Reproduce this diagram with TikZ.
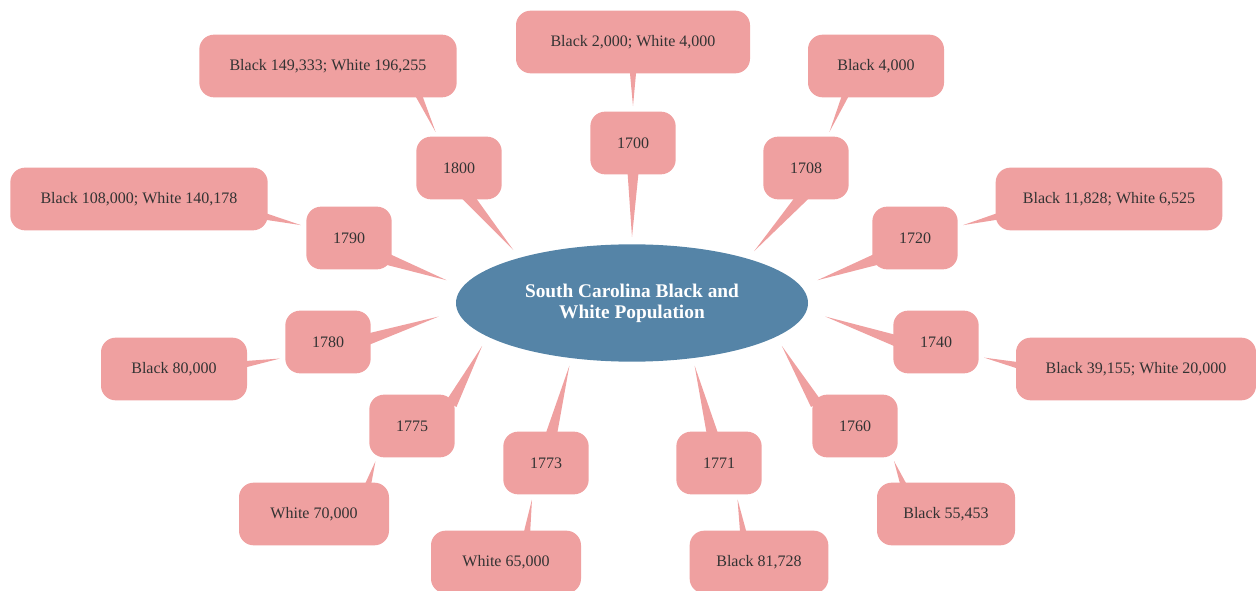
\documentclass[tikz,border=0pt]{standalone}
\usepackage{fontspec}
\setmainfont{Liberation Serif}
\usepackage{xcolor}
\usepackage{tikz}
\usetikzlibrary{positioning, calc, backgrounds, shapes.geometric}
\definecolor{rosebox}{HTML}{EFA0A0}
\definecolor{coreblue}{HTML}{5584A7}
\definecolor{inkgray}{HTML}{333333}

\begin{document}
\begin{tikzpicture}[
    x=0.75pt, y=-0.75pt,
    core/.style={ellipse, fill=coreblue, text=white, align=center, inner sep=0pt, minimum width=264pt, minimum height=88pt, font=\fontsize{14.5}{15.75}\selectfont\bfseries},
    year/.style={rectangle, fill=rosebox, text=inkgray, rounded corners=11pt, minimum width=64pt, minimum height=47pt, font=\fontsize{12}{14}\selectfont},
    tally/.style={year, minimum width=#1},
    spoke/.style={fill=rosebox, to path={let \p1=(\tikztostart), \p2=(\tikztotarget), \n1={atan2(\y1-\y2,\x1-\x2)} in ($(\p1)+(\n1:6pt)+(\n1+90:#1)$) -- (\p2) -- ($(\p1)+(\n1:6pt)+(\n1-90:#1)$) -- cycle}}
]
    \useasboundingbox (0,0) rectangle (1256,591);

    \node [core] (root) at (632,303) {South Carolina Black and\\White Population};

    \node [year] (y1700) at (633,143) {1700};
    \node [year] (y1708) at (806,168) {1708};
    \node [year] (y1720) at (915,238) {1720};
    \node [year] (y1740) at (936,342) {1740};
    \node [year] (y1760) at (855,426) {1760};
    \node [year] (y1771) at (719,463) {1771};
    \node [year] (y1773) at (546,463) {1773};
    \node [year] (y1775) at (412,426) {1775};
    \node [year] (y1780) at (328,342) {1780};
    \node [year] (y1790) at (349,238) {1790};
    \node [year] (y1800) at (459,168) {1800};

    \node [tally=175.5pt] (c1700) at (633,42) {Black 2,000; White 4,000};
    \node [tally=102pt] (c1708) at (876,66) {Black 4,000};
    \node [tally=170pt] (c1720) at (1109,199) {Black 11,828; White 6,525};
    \node [tally=180pt] (c1740) at (1136,369) {Black 39,155; White 20,000};
    \node [tally=103.5pt] (c1760) at (946,514) {Black 55,453};
    \node [tally=104pt] (c1771) at (759,562) {Black 81,728};
    \node [tally=112.5pt] (c1773) at (506,562) {White 65,000};
    \node [tally=112.5pt] (c1775) at (314,514) {White 70,000};
    \node [tally=109.5pt] (c1780) at (174,369) {Black 80,000};
    \node [tally=193pt] (c1790) at (139,199) {Black 108,000; White 140,178};
    \node [tally=193pt] (c1800) at (328,66) {Black 149,333; White 196,255};

    \begin{pgfonlayer}{background}
    % centre to years
    \path [spoke=4.5pt] (y1700.south) to ($(root.center)!1.12!(root.90)$);
    \path [spoke=4.5pt] (y1708.-101) to ($(root.center)!1.12!(root.23)$);
    \path [spoke=4.5pt] (y1720.-152) to ($(root.center)!1.12!(root.7)$);
    \path [spoke=4.5pt] (y1740.177) to ($(root.center)!1.12!(root.-4)$);
    \path [spoke=4.5pt] (y1760.146) to ($(root.center)!1.12!(root.-16)$);
    \path [spoke=4.5pt] (y1771.103) to ($(root.center)!1.12!(root.-45)$);
    \path [spoke=4.5pt] (y1773.79) to ($(root.center)!1.12!(root.-135)$);
    \path [spoke=4.5pt] (y1775.34) to ($(root.center)!1.12!(root.-164)$);
    \path [spoke=4.5pt] (y1780.5) to ($(root.center)!1.12!(root.-176)$);
    \path [spoke=4.5pt] (y1790.-28) to ($(root.center)!1.12!(root.173)$);
    \path [spoke=4.5pt] (y1800.-70) to ($(root.center)!1.12!(root.156)$);
    % years to counts
    \path [spoke=2.8pt] (c1700.south) to ($(y1700.90)!-4pt!(y1700.center)$);
    \path [spoke=2.8pt] (c1708.-135) to ($(y1708.57)!-4pt!(y1708.center)$);
    \path [spoke=2.8pt] (c1720.-171) to ($(y1720.15)!-4pt!(y1720.center)$);
    \path [spoke=2.8pt] (c1740.178) to ($(y1740.-18)!-4pt!(y1740.center)$);
    \path [spoke=2.8pt] (c1760.144) to ($(y1760.-42)!-4pt!(y1760.center)$);
    \path [spoke=2.8pt] (c1771.117) to ($(y1771.-63)!-4pt!(y1771.center)$);
    \path [spoke=2.8pt] (c1773.56) to ($(y1773.-111)!-4pt!(y1773.center)$);
    \path [spoke=2.8pt] (c1775.30) to ($(y1775.-136)!-4pt!(y1775.center)$);
    \path [spoke=2.8pt] (c1780.4) to ($(y1780.-161)!-4pt!(y1780.center)$);
    \path [spoke=2.8pt] (c1790.-8) to ($(y1790.165)!-4pt!(y1790.center)$);
    \path [spoke=2.8pt] (c1800.-19) to ($(y1800.123)!-4pt!(y1800.center)$);
    \end{pgfonlayer}
\end{tikzpicture}
\end{document}
